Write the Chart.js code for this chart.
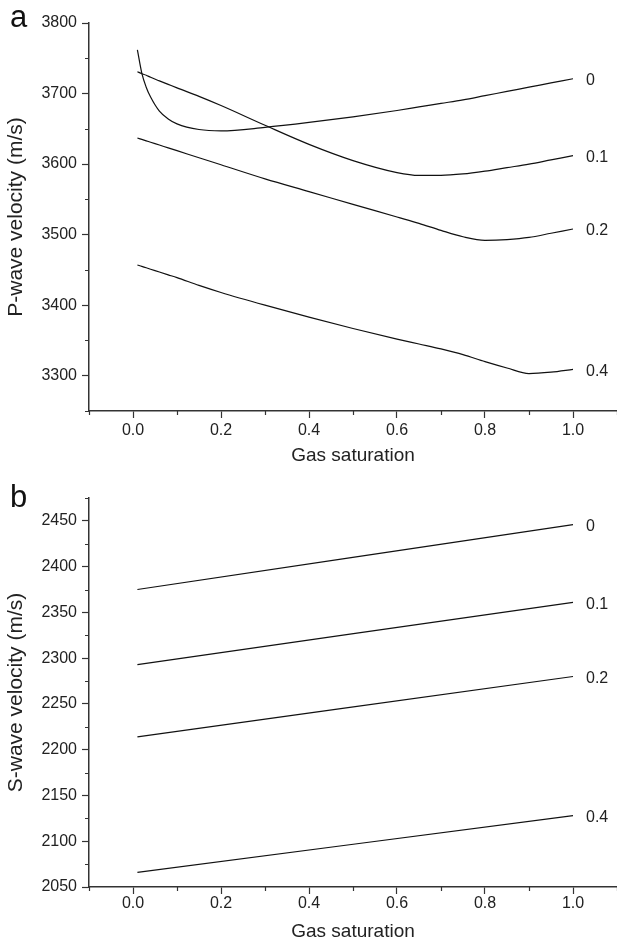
<!DOCTYPE html>
<html>
<head>
<meta charset="utf-8">
<script src="https://cdn.jsdelivr.net/npm/chart.js@4.4.1/dist/chart.umd.min.js"></script>
<style>
  body { margin: 0; background: #fff; }
  .panel { position: absolute; left: 0; width: 617px; }
  .tag { position: absolute; left: 10px; font: 31px "Liberation Sans", Arial, sans-serif; line-height: 31px; color: #111; }
</style>
</head>
<body>
<div class="panel" style="top:0;height:470px"><canvas id="pChart" width="617" height="470"></canvas></div>
<div class="panel" style="top:470px;height:473px"><canvas id="sChart" width="617" height="473"></canvas></div>
<div class="tag" style="top:1px">a</div>
<div class="tag" style="top:481px">b</div>
<script>
// curve labels (shown at the right end of each line)
const curveNames = ['0', '0.1', '0.2', '0.4'];

// panel a: P-wave velocity vs gas saturation
const satP = [0.01, 0.02, 0.03, 0.04, 0.06, 0.08, 0.1, 0.15, 0.2, 0.3, 0.4, 0.5, 0.6, 0.65, 0.7, 0.75, 0.8, 0.85, 0.9, 0.95, 1.0];
const vp0  = [3762, 3729, 3709, 3695, 3675, 3664, 3657, 3649, 3647, 3652, 3659, 3667, 3676, 3681, 3686, 3691, 3697, 3703, 3709, 3715, 3721];
const vp01 = [3731, 3728, 3726, 3723, 3718, 3713, 3708, 3696, 3683, 3655, 3628, 3605, 3588, 3584, 3584, 3586, 3590, 3595, 3600, 3606, 3612];
const vp02 = [3637, 3635, 3633, 3631, 3627, 3623, 3619, 3609, 3599, 3579, 3561, 3543, 3525, 3516, 3506, 3497, 3492, 3493, 3496, 3502, 3508];
const vp04 = [3457, 3455, 3453, 3451, 3447, 3443, 3439, 3428, 3418, 3400, 3383, 3367, 3352, 3345, 3338, 3330, 3320, 3311, 3303, 3305, 3309];

// panel b: S-wave velocity vs gas saturation
const satS = [0.01, 1.0];
const vs0  = [2375, 2446];
const vs01 = [2293, 2361];
const vs02 = [2214, 2280];
const vs04 = [2066, 2128];

// axis ticks
const xTicks = [0, 0.2, 0.4, 0.6, 0.8, 1.0];
const xMinor = [-0.1, 0.1, 0.3, 0.5, 0.7, 0.9, 1.1];
const pTicks = [3300, 3400, 3500, 3600, 3700, 3800];
const pMinor = [3250, 3350, 3450, 3550, 3650, 3750];
const sTicks = [2050, 2100, 2150, 2200, 2250, 2300, 2350, 2400, 2450];
const sMinor = [2075, 2125, 2175, 2225, 2275, 2325, 2375, 2425, 2475];

Chart.defaults.font.family = '"Liberation Sans", Arial, sans-serif';

// writes the curve name just right of the last point
const curveLabels = {
  id: 'curveLabels',
  afterDatasetsDraw(chart) {
    const ctx = chart.ctx;
    ctx.save();
    ctx.font = '16px "Liberation Sans", Arial, sans-serif';
    ctx.fillStyle = '#222';
    ctx.textAlign = 'left';
    ctx.textBaseline = 'middle';
    chart.data.datasets.forEach((ds, i) => {
      const pts = chart.getDatasetMeta(i).data;
      const last = pts[pts.length - 1];
      ctx.fillText(ds.label, last.x + 13, last.y + 2);
    });
    ctx.restore();
  }
};

// short unlabeled ticks between the major ones
const minorTicks = {
  id: 'minorTicks',
  afterDraw(chart, args, opts) {
    const { ctx, scales: { x, y } } = chart;
    ctx.save();
    ctx.strokeStyle = '#333';
    ctx.lineWidth = 1.2;
    ctx.beginPath();
    opts.x.forEach(v => {
      const px = Math.round(x.getPixelForValue(v)) + 0.5;
      ctx.moveTo(px, x.top);
      ctx.lineTo(px, x.top + 4);
    });
    opts.y.forEach(v => {
      const py = Math.round(y.getPixelForValue(v)) + 0.5;
      ctx.moveTo(y.right, py);
      ctx.lineTo(y.right - 4, py);
    });
    ctx.stroke();
    ctx.restore();
  }
};

function makeChart(id, cfg) {
  return new Chart(document.getElementById(id), {
    type: 'line',
    data: {
      datasets: cfg.series.map((vals, i) => ({
        label: curveNames[i],
        data: cfg.sat.map((s, j) => ({ x: s, y: vals[j] })),
        borderColor: '#111',
        borderWidth: 1.2,
        pointRadius: 0,
        cubicInterpolationMode: 'monotone',
        fill: false
      }))
    },
    options: {
      responsive: false,
      animation: false,
      layout: { padding: { top: cfg.top, left: 0, right: 0, bottom: 0 } },
      plugins: {
        legend: { display: false },
        tooltip: { enabled: false },
        minorTicks: { x: xMinor, y: cfg.minor }
      },
      scales: {
        x: {
          type: 'linear',
          min: -0.1,
          max: 1.1,
          afterBuildTicks: s => { s.ticks = xTicks.map(v => ({ value: v })); },
          afterFit: s => { s.height = cfg.xHeight; },
          grid: { drawOnChartArea: false, tickLength: 7, tickWidth: 1.2, tickColor: '#333' },
          border: { color: '#333', width: 1.5 },
          ticks: { padding: cfg.xPad, color: '#222', font: { size: 16 }, callback: v => v.toFixed(1) },
          title: { display: true, text: 'Gas saturation', color: '#222', font: { size: 19 }, padding: { top: 0, bottom: cfg.titlePad } }
        },
        y: {
          type: 'linear',
          min: cfg.min,
          max: cfg.max,
          afterBuildTicks: s => { s.ticks = cfg.ticks.map(v => ({ value: v })); },
          afterFit: s => { s.width = 89; },
          grid: { drawOnChartArea: false, tickLength: 7, tickWidth: 1.2, tickColor: '#333' },
          border: { color: '#333', width: 1.5 },
          ticks: { padding: 5, color: '#222', font: { size: 16 }, callback: v => String(v) },
          title: { display: true, text: cfg.yTitle, color: '#222', font: { size: 21 }, padding: { top: 4, bottom: 0 } }
        }
      }
    },
    plugins: [curveLabels, minorTicks]
  });
}

makeChart('pChart', {
  sat: satP, series: [vp0, vp01, vp02, vp04],
  min: 3250, max: 3800, ticks: pTicks, minor: pMinor,
  yTitle: 'P-wave velocity (m/s)',
  top: 23, xHeight: 59, xPad: 3, titlePad: 3
});

makeChart('sChart', {
  sat: satS, series: [vs0, vs01, vs02, vs04],
  min: 2050, max: 2475, ticks: sTicks, minor: sMinor,
  yTitle: 'S-wave velocity (m/s)',
  top: 28, xHeight: 56, xPad: 0, titlePad: 0
});
</script>
</body>
</html>
